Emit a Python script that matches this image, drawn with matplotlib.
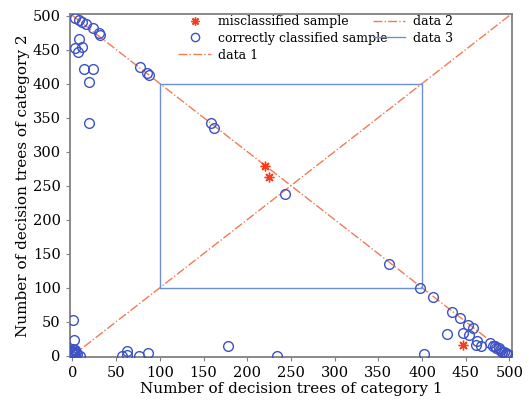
import matplotlib
matplotlib.use("Agg")
import matplotlib.pyplot as plt
import numpy as np

# correctly classified samples (category 1 trees, category 2 trees)
correct_x = [3, 7, 11, 15, 23, 30, 31, 8, 3, 6, 11, 13, 23, 19, 19, 77, 85, 88,
             159, 162, 243, 362, 398, 412, 434, 443, 453, 458, 447, 429, 454,
             463, 462, 467, 478, 481, 485, 489, 492, 497, 499, 402, 484, 488, 494, 496,
             1, 2, 1, 9, 57, 62, 62, 76, 86, 178, 234,
             0, 1, 2, 3, 4, 5, 2, 0, 1, 3, 0, 2]
correct_y = [497, 493, 490, 487, 481, 474, 471, 465, 452, 446, 453, 421, 422, 403, 342, 425, 416, 412,
             342, 334, 238, 135, 100, 86, 64, 55, 45, 41, 34, 32, 30,
             22, 16, 14, 19, 14, 12, 9, 6, 3, 1, 2, 15, 11, 5, 4,
             52, 23, 5, 0, 0, 7, 1, 0, 4, 14, 0,
             0, 2, 4, 1, 6, 3, 8, 5, 10, 9, 7, 3]

# misclassified samples
wrong_x = [220, 225, 447]
wrong_y = [279, 262, 16]

line1_x = [0, 500]
line1_y = [500, 0]
line2_x = [0, 500]
line2_y = [0, 500]
box_x = [100, 400, 400, 100, 100]
box_y = [100, 100, 400, 400, 100]

plt.rcParams["font.family"] = ["DejaVu Serif"]

fig = plt.figure(figsize=(5.29, 4.04), dpi=100)
ax = fig.add_axes([0.132, 0.116, 0.836, 0.849])

star, = ax.plot(wrong_x, wrong_y, linestyle="none", marker=(8, 2, 0), color="#ff3a1a",
                markersize=7, markeredgewidth=1.0, label="misclassified sample", zorder=4)
circ, = ax.plot(correct_x, correct_y, linestyle="none", marker="o", markerfacecolor="none",
                markeredgecolor="#3d52c4", markersize=7, markeredgewidth=1.0,
                label="correctly classified sample", zorder=3)
l1, = ax.plot(line1_x, line1_y, linestyle="-.", color="#f27a55", linewidth=1.0, label="data 1")
l2, = ax.plot(line2_x, line2_y, linestyle="-.", color="#f27a55", linewidth=1.0, label="data 2")
l3, = ax.plot(box_x, box_y, linestyle="-", color="#6d8fd8", linewidth=1.0, label="data 3")

ax.set_xlim(-3, 503)
ax.set_ylim(-2, 502)
ax.set_xticks(np.arange(0, 501, 50))
ax.set_yticks(np.arange(0, 501, 50))
ax.tick_params(direction="out", length=3, color="#808080", labelsize=10.5)
for s in ax.spines.values():
    s.set_color("#808080")
    s.set_linewidth(1.3)

ax.set_xlabel("Number of decision trees of category 1", fontsize=11, labelpad=1)
ax.set_ylabel("Number of decision trees of category 2", fontsize=11, labelpad=2)

ax.legend(handles=[star, circ, l1, l2, l3], ncol=2, frameon=False, fontsize=9,
          loc="upper left", bbox_to_anchor=(0.22, 1.03), handlelength=2.6,
          labelspacing=0.3, columnspacing=-1.2, handletextpad=0.6, markerscale=0.85)

fig.savefig("out.png", dpi=100)
